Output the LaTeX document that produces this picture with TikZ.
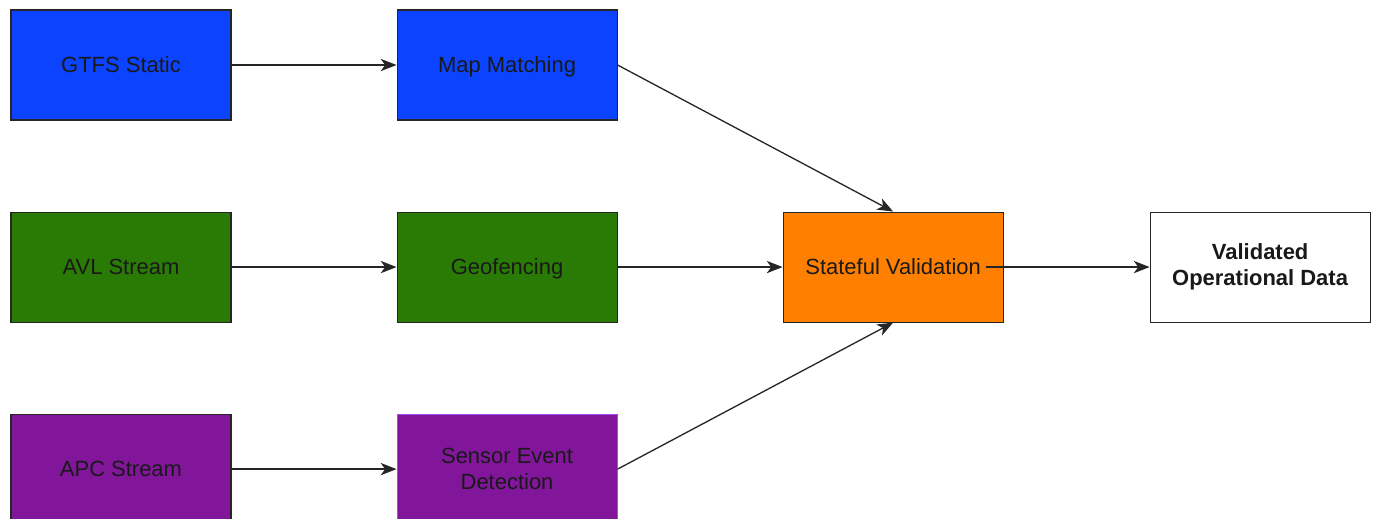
\documentclass[tikz,border=0pt]{standalone}
\usepackage{fontspec}
\setmainfont{Liberation Sans}
\usetikzlibrary{arrows.meta, positioning}
\definecolor{gtfsblue}{HTML}{0B43FF}
\definecolor{avlgreen}{HTML}{2A7A06}
\definecolor{apcpurple}{HTML}{82169A}
\definecolor{sensorline}{HTML}{A04CF0}
\definecolor{stateorange}{HTML}{FF8000}

\begin{document}
\begin{tikzpicture}[
  node distance=1.82cm and 3.3cm,
  stage/.style={draw=black!85, line width=0.6pt, minimum width=4.4cm,
                minimum height=2.2cm, font=\fontsize{12.5}{15}\selectfont,
                text=black!90, align=center},
  oneline/.style={text height=8.9pt, text depth=0pt},
  arr/.style={-{Stealth[length=9pt, width=7pt, inset=2.5pt]}, line width=0.75pt,
              color=black!85}
]
  \useasboundingbox (0,0) rectangle (27.46,-10.36);

  % Sources
  \node[stage, oneline, fill=gtfsblue] (gtfs) at (2.42,-1.30) {GTFS Static};
  \node[stage, oneline, fill=avlgreen, below=of gtfs] (avl) {AVL Stream};
  \node[stage, oneline, fill=apcpurple, below=of avl] (apc) {APC Stream};

  % Processing
  \node[stage, oneline, fill=gtfsblue, right=of gtfs] (mapmatch) {Map Matching};
  \node[stage, oneline, fill=avlgreen, right=of avl] (geofence) {Geofencing};
  \node[stage, fill=apcpurple, draw=sensorline, right=of apc]
    (sensor) {Sensor Event\\Detection};

  % Validation
  \node[stage, oneline, fill=stateorange, right=of geofence]
    (stateful) {Stateful Validation};
  \node[stage, fill=white, right=2.92cm of stateful]
    (validated) {\textbf{Validated}\\\textbf{Operational Data}};

  % Arrows
  \draw[arr] (gtfs.east) -- (mapmatch.west);
  \draw[arr] (avl.east) -- (geofence.west);
  \draw[arr] (apc.east) -- (sensor.west);

  \draw[arr] (mapmatch.east) -- (stateful.north);
  \draw[arr] (geofence.east) -- (stateful.west);
  \draw[arr] (sensor.east) -- (stateful.south);

  \draw[arr] ([xshift=-0.36cm]stateful.east) -- (validated.west);
\end{tikzpicture}
\end{document}
